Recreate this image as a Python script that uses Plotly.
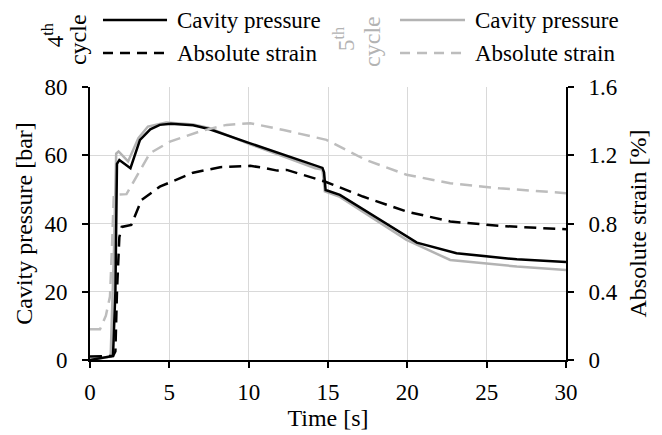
import plotly.graph_objects as go

# ---- data ----
t_p4 = [0, 1.45, 1.6, 1.7, 1.85, 2.55, 3.15, 3.8, 4.4, 5.1, 6.5, 7.5, 10.1, 12.0, 14.2, 14.65, 14.75, 14.85, 15.75, 18.3, 20.6, 23.1, 26.9, 30]
p4 = [0, 1.2, 20, 57.5, 58.6, 56.2, 64.5, 67.6, 68.9, 69.2, 68.8, 67.7, 63.5, 60.5, 56.9, 56.3, 55.0, 49.8, 48.4, 41.0, 34.4, 31.3, 29.5, 28.7]

t_p5 = [0, 1.3, 1.5, 1.65, 1.8, 2.4, 3.05, 3.65, 4.8, 6.5, 7.5, 10.1, 12.0, 14.2, 14.65, 14.8, 15.75, 18.3, 19.95, 22.7, 26.9, 30]
p5 = [0, 1.0, 30, 60.5, 61.1, 58.2, 65.0, 68.4, 69.6, 69.0, 68.0, 63.2, 60.0, 56.2, 55.8, 49.4, 47.8, 40.2, 35.2, 29.3, 27.4, 26.4]

t_s4 = [0, 1.45, 1.6, 1.7, 1.85, 2.0, 2.6, 3.25, 4.4, 6.5, 8.2, 10.1, 11.0, 11.8, 12.4, 14.2, 14.8, 17.2, 19.95, 22.7, 25.8, 30]
s4 = [0.02, 0.024, 0.05, 0.4, 0.72, 0.78, 0.792, 0.938, 1.016, 1.098, 1.13, 1.138, 1.126, 1.11, 1.114, 1.062, 1.046, 0.958, 0.87, 0.812, 0.786, 0.766]

t_s5 = [0, 0.63, 1.0, 1.26, 1.4, 1.5, 2.3, 2.94, 3.78, 5.04, 6.93, 8.6, 10.1, 12.2, 14.9, 17.4, 19.95, 22.7, 25.8, 30]
s5 = [0.18, 0.18, 0.26, 0.372, 0.7, 0.968, 0.972, 1.076, 1.212, 1.28, 1.34, 1.378, 1.388, 1.348, 1.29, 1.172, 1.086, 1.036, 1.006, 0.978]

x_ticks = [0, 5, 10, 15, 20, 25, 30]
y_ticks = [0, 20, 40, 60, 80]
y2_ticks = [0, 0.4, 0.8, 1.2, 1.6]
y2_labels = ["0", "0.4", "0.8", "1.2", "1.6"]

series_names = ["Cavity pressure", "Absolute strain"]
cycle_labels = ["4<sup>th</sup>", "5<sup>th</sup>"]

BLACK = "#000000"
GRAY = "#b3b3b3"
GRAY_D = "#bdbdbd"
DASH = "12px,7px"
FONT = "Liberation Serif, Times New Roman, Times, serif"
TF = dict(family=FONT, size=23, color="black")
TT = dict(family=FONT, size=24, color="black")

fig = go.Figure()
# draw order: strains, gray pressure, black pressure on top
fig.add_trace(go.Scatter(x=t_s5, y=s5, mode="lines", name="5th " + series_names[1], yaxis="y2",
                         line=dict(color=GRAY_D, width=2.5, dash=DASH), showlegend=False))
fig.add_trace(go.Scatter(x=t_s4, y=s4, mode="lines", name="4th " + series_names[1], yaxis="y2",
                         line=dict(color=BLACK, width=2.5, dash=DASH), showlegend=False))
fig.add_trace(go.Scatter(x=t_p5, y=p5, mode="lines", name="5th " + series_names[0],
                         line=dict(color=GRAY, width=2.5), showlegend=False))
fig.add_trace(go.Scatter(x=t_p4, y=p4, mode="lines", name="4th " + series_names[0],
                         line=dict(color=BLACK, width=2.5), showlegend=False))

# ---- manual legend (keys + labels) in paper coordinates ----
shapes = []
annotations = []
row_y = [1.2454, 1.1245]
groups = [
    dict(x0=0.0273, x1=0.1618, xt=0.1786, colors=[BLACK, BLACK],
         cyc=cycle_labels[0], cyc_col=BLACK, cx=(-0.0777, -0.0252), cy=(1.19, 1.172)),
    dict(x0=0.6513, x1=0.7878, xt=0.8046, colors=[GRAY, GRAY_D],
         cyc=cycle_labels[1], cyc_col=GRAY, cx=(0.536, 0.592), cy=(1.176, 1.168)),
]
for g in groups:
    for i, name in enumerate(series_names):
        shapes.append(dict(type="line", xref="paper", yref="paper", x0=g["x0"], x1=g["x1"],
                           y0=row_y[i], y1=row_y[i],
                           line=dict(color=g["colors"][i], width=2.5,
                                     dash="solid" if i == 0 else "10px,7px")))
        annotations.append(dict(text=name, xref="paper", yref="paper", x=g["xt"], y=row_y[i],
                                xanchor="left", yanchor="middle", showarrow=False, font=TF))
    annotations.append(dict(text=g["cyc"], textangle=-90, xref="paper", yref="paper",
                            x=g["cx"][0], y=g["cy"][0], xanchor="center", yanchor="middle",
                            showarrow=False, font=dict(family=FONT, size=23, color=g["cyc_col"])))
    annotations.append(dict(text="cycle", textangle=-90, xref="paper", yref="paper",
                            x=g["cx"][1], y=g["cy"][1], xanchor="center", yanchor="middle",
                            showarrow=False, font=dict(family=FONT, size=24, color=g["cyc_col"])))

fig.update_layout(
    width=662, height=435,
    margin=dict(l=90, r=96, t=87, b=75, autoexpand=False),
    paper_bgcolor="white", plot_bgcolor="white",
    font=TF,
    showlegend=False,
    xaxis=dict(range=[0, 30], tickvals=x_ticks, showgrid=True, gridcolor="#d9d9d9", gridwidth=1,
               showline=True, linecolor="black", linewidth=2, ticks="outside", ticklen=6,
               tickwidth=2, tickcolor="black", zeroline=False, tickfont=TF, ticklabelstandoff=4,
               title=dict(text="Time [s]", standoff=2, font=TT)),
    yaxis=dict(range=[0, 80], tickvals=y_ticks, showgrid=True, gridcolor="#d9d9d9", gridwidth=1,
               showline=True, linecolor="black", linewidth=2, ticks="outside", ticklen=6,
               tickwidth=2, tickcolor="black", zeroline=False, tickfont=TF, ticklabelstandoff=10,
               title=dict(text="Cavity pressure [bar]", standoff=5, font=TT)),
    yaxis2=dict(range=[0, 1.6], tickvals=y2_ticks, ticktext=y2_labels, overlaying="y", side="right",
                showgrid=False, showline=True, linecolor="black", linewidth=2, ticks="outside",
                ticklen=6, tickwidth=2, tickcolor="black", zeroline=False, tickfont=TF,
                ticklabelstandoff=10,
                title=dict(text="Absolute strain [%]", standoff=12, font=TT)),
    shapes=shapes,
    annotations=annotations,
)

fig.write_html("out.html")
